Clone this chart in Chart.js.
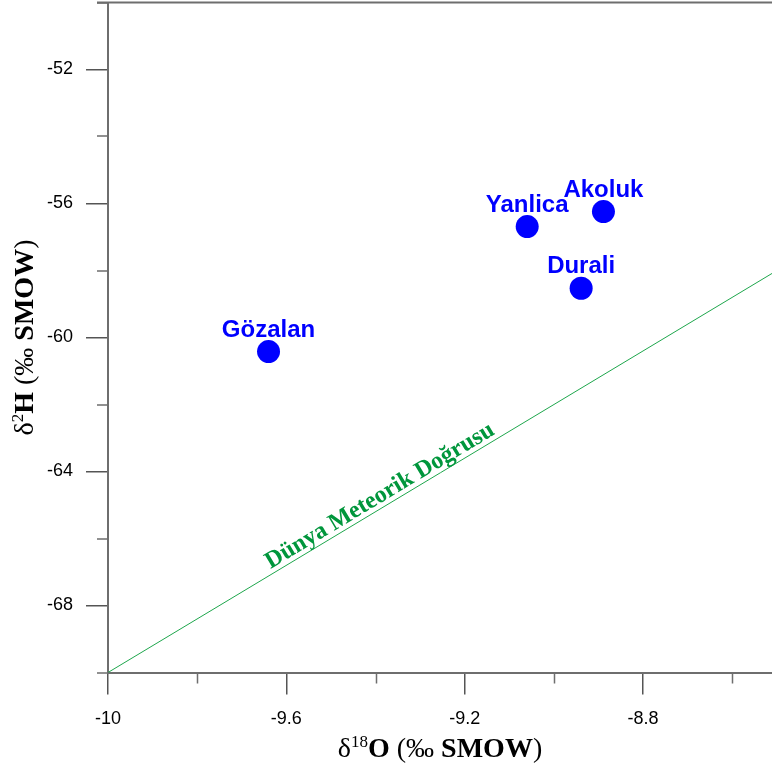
<!DOCTYPE html>
<html lang="tr">
<head>
<meta charset="UTF-8">
<title>δ18O - δ2H</title>
<script src="https://cdn.jsdelivr.net/npm/chart.js"></script>
<style>
    html, body { margin: 0; padding: 0; background: #fff; }
    canvas { display: block; }
</style>
</head>
<body>
<canvas id="chart" width="772" height="769"></canvas>
<script>
// Veriler
const stations = ['Gözalan', 'Yanlica', 'Akoluk', 'Durali'];
const d18O = [-9.64, -9.06, -8.889, -8.939];
const d2H = [-60.42, -56.69, -56.24, -58.53];

// Dünya meteorik doğrusu uç noktaları
const gmwlX = [-10, -8.5];
const gmwlY = [-70, -58];

// Eksen işaretleri
const xTicks = [-10, -9.6, -9.2, -8.8];
const xMinorTicks = [-9.8, -9.4, -9.0, -8.6];
const yTicks = [-68, -64, -60, -56, -52];
const yMinorTicks = [-70, -66, -62, -58, -54, -50];

const axisColor = '#6e6e6e';
const pointColor = '#0000ff';
const lineColor = '#1ea64c';
const lineLabelColor = '#00963c';
const serif = '"Liberation Serif", "Times New Roman", serif';
const sans = '"Liberation Sans", Arial, sans-serif';

// Metin parçalarını sırayla çiz (farklı kalınlık / üst simge)
const drawRuns = (ctx, runs, x, y) => {
    let total = 0;
    runs.forEach(r => { ctx.font = r.font; total += ctx.measureText(r.text).width; });
    let cx = x - total / 2;
    runs.forEach(r => {
        ctx.font = r.font;
        ctx.fillText(r.text, cx, y + (r.dy || 0));
        cx += ctx.measureText(r.text).width;
    });
};

const extras = {
    id: 'extras',
    afterDraw(chart) {
        const { ctx, chartArea: a, scales: { x, y } } = chart;
        ctx.save();

        // üst çizgi
        ctx.strokeStyle = axisColor;
        ctx.lineWidth = 2;
        ctx.beginPath();
        ctx.moveTo(a.left - 11, a.top);
        ctx.lineTo(a.right, a.top);
        ctx.stroke();

        // ara işaretler
        ctx.lineWidth = 1.5;
        ctx.beginPath();
        yMinorTicks.forEach(v => {
            const py = Math.round(y.getPixelForValue(v));
            ctx.moveTo(a.left - 11, py);
            ctx.lineTo(a.left, py);
        });
        xMinorTicks.forEach(v => {
            const px = Math.round(x.getPixelForValue(v)) + 0.5;
            ctx.moveTo(px, a.bottom);
            ctx.lineTo(px, a.bottom + 11);
        });
        ctx.stroke();

        // istasyon adları
        ctx.fillStyle = pointColor;
        ctx.font = 'bold 24px ' + sans;
        ctx.textAlign = 'center';
        ctx.textBaseline = 'alphabetic';
        chart.getDatasetMeta(0).data.forEach((pt, i) => {
            ctx.fillText(stations[i], pt.x, pt.y - 15);
        });

        // doğru etiketi
        const x1 = x.getPixelForValue(gmwlX[0]), y1 = y.getPixelForValue(gmwlY[0]);
        const x2 = x.getPixelForValue(gmwlX[1]), y2 = y.getPixelForValue(gmwlY[1]);
        const ang = Math.atan2(y2 - y1, x2 - x1);
        const t = 0.415;
        ctx.save();
        ctx.beginPath();
        ctx.rect(a.left, a.top, a.right - a.left, a.bottom - a.top);
        ctx.clip();
        ctx.translate(x1 + (x2 - x1) * t, y1 + (y2 - y1) * t);
        ctx.rotate(ang);
        ctx.fillStyle = lineLabelColor;
        ctx.font = 'bold 24px ' + serif;
        ctx.fillText('Dünya Meteorik Doğrusu', 0, -5);
        ctx.restore();

        // eksen başlıkları
        ctx.fillStyle = '#000';
        ctx.textAlign = 'left';
        const reg = '28px ' + serif, bold = 'bold 28px ' + serif, sup = '17px ' + serif;
        drawRuns(ctx, [
            { text: 'δ', font: reg },
            { text: '18', font: sup, dy: -10 },
            { text: 'O', font: bold },
            { text: ' (‰ ', font: reg },
            { text: 'SMOW', font: bold },
            { text: ')', font: reg }
        ], (a.left + a.right) / 2, 757);

        ctx.save();
        ctx.translate(33, (a.top + a.bottom) / 2);
        ctx.rotate(-Math.PI / 2);
        drawRuns(ctx, [
            { text: 'δ', font: reg },
            { text: '2', font: sup, dy: -10 },
            { text: 'H', font: bold },
            { text: ' (‰ ', font: reg },
            { text: 'SMOW', font: bold },
            { text: ')', font: reg }
        ], 0, 0);
        ctx.restore();

        ctx.restore();
    }
};

new Chart(document.getElementById('chart'), {
    type: 'scatter',
    data: {
        datasets: [
            {
                label: 'Kaynaklar',
                data: d18O.map((v, i) => ({ x: v, y: d2H[i] })),
                backgroundColor: pointColor,
                borderColor: pointColor,
                pointRadius: 11.5,
                pointHoverRadius: 11.5,
                borderWidth: 0
            },
            {
                label: 'Dünya Meteorik Doğrusu',
                data: gmwlX.map((v, i) => ({ x: v, y: gmwlY[i] })),
                showLine: true,
                borderColor: lineColor,
                borderWidth: 1,
                pointRadius: 0
            }
        ]
    },
    options: {
        responsive: false,
        animation: false,
        events: [],
        layout: { autoPadding: false, padding: { top: 2.5, right: 0, left: 0, bottom: 0 } },
        plugins: { legend: { display: false }, tooltip: { enabled: false } },
        scales: {
            x: {
                type: 'linear',
                min: -10,
                max: -8.511,
                afterFit: s => { s.height = 96.5; s.paddingLeft = 0; s.paddingRight = 0; },
                afterBuildTicks: s => { s.ticks = xTicks.map(v => ({ value: v })); },
                ticks: {
                    callback: v => String(v),
                    font: { family: sans, size: 18 },
                    color: '#000',
                    padding: 14,
                    maxRotation: 0,
                    autoSkip: false
                },
                grid: { drawOnChartArea: false, tickLength: 22, color: '#555', lineWidth: 1.5 },
                border: { color: axisColor, width: 2 }
            },
            y: {
                type: 'linear',
                min: -70,
                max: -50,
                afterFit: s => { s.width = 108; s.paddingTop = 0; s.paddingBottom = 0; },
                afterBuildTicks: s => { s.ticks = yTicks.map(v => ({ value: v })); },
                ticks: {
                    callback: v => String(v),
                    font: { family: sans, size: 18 },
                    color: '#000',
                    padding: 13,
                    autoSkip: false
                },
                grid: { drawOnChartArea: false, tickLength: 22, color: '#555', lineWidth: 1.5 },
                border: { color: axisColor, width: 2 }
            }
        }
    },
    plugins: [extras]
});
</script>
</body>
</html>
